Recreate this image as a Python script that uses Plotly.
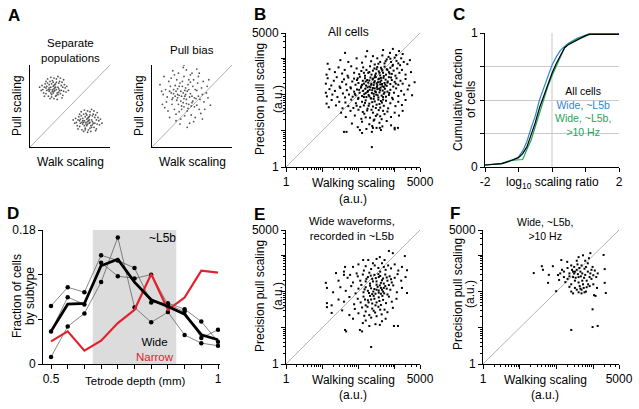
import math
import plotly.graph_objects as go

W, H = 639, 409
FONT = "Liberation Sans, Arial, Helvetica, sans-serif"
FS = 12

# ---------------- Panel A (schematic, arbitrary units 0-10) ----------------
A_sep_upper = [(3.0,7.1),(2.4,7.6),(3.6,6.7),(2.1,6.9),(3.9,7.5),(2.7,6.4),(3.3,7.9),(1.8,7.3),(4.2,6.8),(2.9,7.4),
 (3.1,6.9),(2.5,7.0),(3.5,7.3),(2.2,7.8),(3.8,6.5),(1.6,7.0),(4.4,7.2),(2.8,8.1),(3.2,6.2),(2.0,6.5),(4.0,7.9),
 (2.6,7.3),(3.4,6.6),(1.9,7.7),(4.1,6.3),(3.0,8.4),(2.3,6.2),(3.7,8.0),(1.5,7.5),(4.5,6.7),(2.7,7.7),(3.3,7.0),
 (2.1,7.4),(3.9,6.9),(2.9,6.6),(3.1,7.6),(1.7,6.6),(4.3,7.6),(2.4,6.8),(3.6,7.8),(3.0,5.9),(2.6,8.5),(3.4,5.8),
 (2.2,8.3),(3.8,8.4),(1.4,6.9),(4.6,7.4),(2.8,7.0),(3.2,7.3),(3.0,6.8),(2.5,5.9),(3.5,8.6),(2.0,8.0),(4.0,6.0),
 (3.1,7.2),(2.9,7.9),(1.8,6.2),(4.2,8.2),(2.7,6.1),(3.3,8.3),(1.2,7.3),(4.8,6.9),(3.0,7.5),(2.4,7.2),(3.6,7.1),
 (2.3,7.0),(3.7,6.9),(2.8,6.8),(3.2,7.7),(2.6,6.6),(3.5,6.4),(2.0,7.2),(4.1,7.3),(3.3,6.3),(2.5,8.0)]
A_sep_lower = [(7.2,3.1),(6.6,3.5),(7.8,2.7),(6.3,2.9),(8.1,3.6),(6.9,2.3),(7.5,3.9),(6.0,3.3),(8.4,2.8),(7.1,3.4),
 (7.4,2.9),(6.7,3.0),(7.7,3.3),(6.4,3.8),(8.0,2.4),(5.8,3.0),(8.6,3.2),(7.0,4.1),(7.3,2.1),(6.2,2.5),(8.2,3.9),
 (6.8,3.2),(7.6,2.6),(6.1,3.7),(8.3,2.2),(7.2,4.4),(6.5,2.1),(7.9,4.0),(5.7,3.5),(8.7,2.7),(6.9,3.7),(7.5,3.0),
 (6.3,3.4),(8.1,2.9),(7.1,2.6),(7.3,3.6),(5.9,2.6),(8.5,3.6),(6.6,2.8),(7.8,3.8),(7.2,1.8),(6.8,4.5),(7.6,1.9),
 (6.4,4.3),(8.0,4.4),(5.6,2.9),(8.8,3.4),(7.0,3.0),(7.4,3.3),(7.2,2.8),(6.7,1.9),(7.7,4.6),(6.2,4.0),(8.2,2.0),
 (7.3,3.2),(7.1,3.9),(6.0,2.2),(8.4,4.2),(6.9,2.1),(7.5,4.3),(5.4,3.3),(9.0,2.9),(7.2,3.5),(6.6,3.2),(7.8,3.1),
 (6.5,3.0),(7.9,2.9),(7.0,2.8),(7.4,3.7),(6.8,2.6),(7.7,2.4),(6.2,3.2),(8.3,3.3),(7.5,2.3),(6.7,4.0)]
A_bias = [(4.1,6.2),(3.2,7.1),(5.0,5.4),(2.6,6.0),(5.6,6.9),(3.7,5.0),(4.5,7.6),(2.2,6.8),(6.0,5.8),(3.9,6.6),
 (4.3,5.8),(3.4,6.3),(4.8,6.5),(2.9,7.5),(5.3,4.9),(1.9,6.1),(6.3,6.4),(3.8,8.0),(4.4,4.4),(2.5,5.2),(5.7,7.8),
 (3.6,6.8),(4.6,5.2),(2.3,7.4),(5.9,4.6),(4.0,8.6),(2.8,4.6),(5.2,8.2),(1.7,7.0),(6.5,5.5),(3.5,7.8),(4.7,6.1),
 (2.7,6.5),(5.5,5.9),(3.9,5.4),(4.2,7.2),(1.8,5.5),(6.2,7.2),(3.1,5.7),(5.1,7.4),(4.1,3.8),(3.3,9.0),(4.9,3.9),
 (2.4,8.4),(5.8,8.6),(1.4,6.4),(6.8,6.6),(3.7,6.2),(4.4,6.8),(4.0,5.9),(3.0,4.0),(5.0,9.0),(2.1,8.0),(6.1,4.1),
 (4.2,6.4),(3.8,7.4),(1.6,4.8),(6.4,8.0),(3.4,4.3),(4.8,8.8),(1.2,6.8),(7.0,6.0),(4.1,6.9),(3.2,6.4),(5.0,6.2),
 (2.9,6.2),(5.3,6.0),(3.6,5.6),(4.6,7.0),(3.3,5.2),(4.9,5.0),(2.4,6.6),(5.8,6.2),(4.5,4.7),(3.1,8.2),(4.3,9.4),
 (3.6,3.4),(5.4,3.6),(2.6,9.3),(5.6,9.5),(1.3,5.2),(6.9,7.4),(2.0,4.4),(6.6,4.6),(3.5,2.8),(4.7,2.9),(4.0,10.0),
 (3.0,3.2),(5.2,3.1),(1.0,7.6),(7.3,5.1),(2.2,3.6),(6.3,3.4),(4.4,2.4),(3.9,9.7),(2.8,8.8),(5.9,9.0),(1.5,8.6),
 (7.1,8.2),(3.7,4.6),(4.3,5.3),(2.5,5.8),(5.4,7.0),(3.4,7.4),(4.8,7.9),(2.7,7.0),(5.6,5.1),(4.0,4.9),(4.6,8.2),
 (3.2,6.0),(5.1,5.6),(3.0,6.8)]

# ---------------- Panel B: all cells (log10 walking, log10 pull) ----------------
B_log10 = [(1.63,3.15),(2.24,3.2),(2.68,3.23),(2.87,3.15),(3.04,3.09),(3.12,3.2),(3.22,3.12),(2.95,3.26),
 (1.15,2.85),(1.5,2.95),(1.72,2.9),(1.95,3.0),(2.1,2.88),(2.2,3.05),(2.35,2.92),(2.45,2.83),(2.52,3.0),(2.6,2.9),
 (2.66,3.08),(2.72,2.86),(2.78,2.97),(2.83,3.04),(2.9,2.9),(2.95,2.82),(3.0,3.02),(3.05,2.93),(3.1,2.86),(3.18,3.0),
 (3.25,2.9),(3.35,2.84),(3.42,2.95),(2.4,3.06),(2.75,2.92),(2.55,2.85),(2.88,2.99),(3.15,2.81),
 (1.12,2.55),(1.2,2.7),(1.35,2.62),(1.45,2.75),(1.55,2.58),(1.62,2.68),(1.7,2.52),(1.8,2.78),(1.88,2.6),(1.95,2.72),
 (2.02,2.56),(2.08,2.65),(2.13,2.75),(2.18,2.52),(2.22,2.68),(2.27,2.6),(2.32,2.78),(2.36,2.55),(2.4,2.66),(2.44,2.72),
 (2.48,2.58),(2.52,2.76),(2.56,2.64),(2.6,2.53),(2.64,2.7),(2.68,2.6),(2.72,2.77),(2.76,2.55),(2.8,2.68),(2.84,2.62),
 (2.88,2.74),(2.92,2.57),(2.97,2.66),(3.02,2.52),(3.07,2.72),(3.13,2.6),(3.2,2.68),(3.3,2.55),(3.45,2.62),(2.3,2.62),
 (2.5,2.7),(2.62,2.74),(2.7,2.51),(2.86,2.58),(2.15,2.6),(2.58,2.6),(2.78,2.7),(2.94,2.79),(2.46,2.53),(2.66,2.66),
 (1.1,2.3),(1.15,2.45),(1.25,2.25),(1.32,2.38),(1.4,2.48),(1.48,2.22),(1.55,2.35),(1.6,2.42),(1.66,2.28),(1.72,2.47),
 (1.78,2.2),(1.83,2.36),(1.88,2.44),(1.92,2.27),(1.96,2.4),(2.0,2.32),(2.04,2.49),(2.08,2.23),(2.12,2.38),(2.15,2.3),
 (2.18,2.45),(2.21,2.25),(2.24,2.4),(2.27,2.33),(2.3,2.22),(2.33,2.47),(2.36,2.3),(2.39,2.42),(2.42,2.26),(2.45,2.37),
 (2.48,2.48),(2.51,2.21),(2.54,2.34),(2.57,2.44),(2.6,2.28),(2.63,2.39),(2.66,2.23),(2.69,2.46),(2.72,2.32),(2.75,2.41),
 (2.78,2.24),(2.81,2.36),(2.84,2.48),(2.88,2.29),(2.92,2.4),(2.96,2.22),(3.0,2.35),(3.05,2.45),(3.1,2.27),(3.16,2.38),
 (3.22,2.3),(3.3,2.43),(3.4,2.25),(3.55,2.34),(2.2,2.36),(2.35,2.27),(2.4,2.44),(2.5,2.31),(2.55,2.42),(2.65,2.29),
 (2.3,2.39),(2.45,2.48),(2.6,2.35),(2.7,2.21),(1.98,2.45),(2.1,2.27),(2.8,2.33),(2.9,2.47),(3.03,2.3),(2.25,2.2),
 (2.52,2.26),(2.62,2.46),(2.74,2.27),(2.43,2.33),
 (1.1,2.05),(1.13,1.95),(1.2,2.15),(1.28,2.0),(1.35,2.1),(1.42,1.93),(1.5,2.18),(1.57,2.03),(1.63,1.92),(1.68,2.12),
 (1.74,2.0),(1.79,2.17),(1.84,1.94),(1.88,2.08),(1.92,1.98),(1.96,2.14),(2.0,1.91),(2.03,2.05),(2.07,2.19),(2.1,1.96),
 (2.13,2.1),(2.16,2.01),(2.19,2.16),(2.22,1.93),(2.25,2.07),(2.28,1.99),(2.31,2.13),(2.34,1.9),(2.37,2.04),(2.4,2.18),
 (2.43,1.95),(2.46,2.09),(2.49,2.0),(2.52,2.15),(2.55,1.92),(2.58,2.06),(2.61,2.19),(2.64,1.97),(2.67,2.11),(2.7,2.02),
 (2.73,2.16),(2.76,1.94),(2.8,2.08),(2.84,1.99),(2.88,2.13),(2.93,1.91),(2.98,2.05),(3.04,2.17),(3.1,1.96),(3.18,2.1),
 (3.26,2.0),(3.36,2.14),(3.48,1.98),(2.2,2.04),(2.3,1.95),(2.38,2.12),(2.48,2.07),(2.6,2.12),(2.68,1.93),(2.45,2.17),
 (2.15,1.93),(2.33,2.2),(2.53,1.98),(2.72,2.06),(1.9,2.02),(2.02,2.13),(2.26,2.1),(2.42,2.02),(2.57,2.16),(2.85,2.04),
 (1.12,1.75),(1.18,1.65),(1.26,1.85),(1.38,1.7),(1.47,1.8),(1.56,1.62),(1.64,1.78),(1.72,1.68),(1.8,1.86),(1.86,1.63),
 (1.93,1.76),(1.99,1.88),(2.05,1.66),(2.1,1.8),(2.15,1.7),(2.2,1.84),(2.25,1.61),(2.3,1.75),(2.35,1.89),(2.4,1.67),
 (2.45,1.81),(2.5,1.72),(2.55,1.86),(2.6,1.64),(2.65,1.78),(2.7,1.69),(2.76,1.83),(2.82,1.62),(2.88,1.76),(2.95,1.87),
 (3.02,1.68),(3.1,1.8),(3.2,1.71),(3.3,1.85),(2.28,1.69),(2.42,1.88),(2.58,1.74),(2.18,1.77),(2.48,1.63),(2.68,1.86),
 (1.95,1.69),(2.38,1.79),(2.62,1.82),
 (1.52,1.5),(1.65,1.38),(1.78,1.55),(1.9,1.42),(2.0,1.58),(2.08,1.33),(2.16,1.47),(2.24,1.56),(2.32,1.36),(2.4,1.5),
 (2.48,1.41),(2.56,1.57),(2.64,1.32),(2.72,1.46),(2.8,1.53),(2.9,1.38),(3.0,1.5),(3.12,1.42),(3.22,1.55),(2.2,1.37),
 (2.36,1.58),(2.52,1.45),(2.68,1.55),(2.44,1.31),(2.12,1.52),(2.6,1.4),
 (1.82,1.2),(1.98,1.1),(2.1,1.25),(2.22,1.05),(2.3,1.18),(2.42,1.28),(2.5,1.08),(2.58,1.22),(2.66,1.12),(2.78,1.27),
 (2.9,1.15),(3.0,1.04),(2.38,1.13),(2.62,1.02),
 (1.6,0.97),(1.67,0.97),(2.04,1.02),(2.1,0.94),(2.37,0.97),(2.4,1.08),(2.59,1.08),(3.0,1.08),(3.09,1.08),(2.37,0.55)]

# ---------------- Panel E: wide waveforms in ~L5b ----------------
E_log10 = [(2.84,3.12),(2.95,3.06),(2.59,2.95),(2.13,2.87),(2.27,2.87),(2.72,2.87),(3.28,2.98),(2.4,2.78),(2.5,2.9),
 (1.63,2.68),(1.85,2.68),(1.38,2.51),(1.6,2.55),(1.77,2.46),(2.0,2.75),(2.2,2.7),(2.35,2.62),(2.45,2.72),(2.55,2.65),
 (2.65,2.78),(2.75,2.6),(2.82,2.72),(2.9,2.64),(3.0,2.75),(3.1,2.58),(3.34,2.59),(2.6,2.55),(2.3,2.52),(2.7,2.68),
 (2.15,2.58),(1.95,2.5),(3.2,2.68),
 (1.1,2.24),(1.45,2.3),(1.7,2.38),(1.85,2.25),(1.98,2.42),(2.05,2.3),(2.12,2.47),(2.2,2.28),(2.26,2.4),(2.32,2.22),
 (2.38,2.35),(2.44,2.46),(2.5,2.28),(2.56,2.4),(2.62,2.24),(2.68,2.36),(2.74,2.47),(2.8,2.3),(2.86,2.42),(2.92,2.25),
 (3.0,2.38),(3.08,2.48),(3.18,2.3),(3.3,2.4),(2.4,2.28),(2.55,2.48),(2.65,2.31),(2.78,2.39),(2.34,2.44),(2.48,2.37),
 (2.6,2.43),(2.7,2.22),(2.9,2.34),(2.22,2.35),(1.6,2.46),
 (1.13,2.1),(1.3,1.98),(1.5,2.12),(1.65,2.02),(1.8,2.15),(1.92,1.95),(2.0,2.08),(2.08,2.18),(2.14,1.98),(2.2,2.12),
 (2.26,2.02),(2.32,2.16),(2.38,1.93),(2.44,2.07),(2.5,2.19),(2.56,1.97),(2.62,2.1),(2.68,2.0),(2.74,2.15),(2.8,1.92),
 (2.88,2.05),(2.96,2.17),(3.06,1.98),(3.2,2.1),(3.34,1.96),(2.41,2.0),(2.53,2.13),(2.65,2.05),(2.71,1.95),(2.47,1.94),
 (2.59,2.17),(2.35,2.09),(2.78,2.08),(2.29,1.96),(2.84,2.18),(2.17,2.06),(2.5,2.05),(2.62,1.94),(2.7,2.1),(2.56,2.03),
 (1.13,1.68),(1.13,1.57),(1.26,1.62),(1.45,1.78),(1.6,1.72),(1.75,1.85),(1.88,1.65),(1.98,1.8),(2.06,1.7),(2.14,1.86),
 (2.2,1.62),(2.26,1.76),(2.32,1.88),(2.38,1.67),(2.44,1.8),(2.5,1.7),(2.56,1.84),(2.62,1.63),(2.68,1.77),(2.76,1.68),
 (2.84,1.86),(2.92,1.72),(3.05,1.8),(2.35,1.78),(2.47,1.62),(2.58,1.74),(2.28,1.7),(2.66,1.88),(2.18,1.78),(2.42,1.88),
 (1.26,1.41),(1.55,1.48),(1.75,1.35),(1.9,1.52),(2.0,1.4),(2.1,1.56),(2.2,1.45),(2.3,1.35),(2.38,1.53),(2.46,1.42),
 (2.55,1.58),(2.64,1.37),(2.72,1.5),(2.8,1.43),(2.95,1.55),(2.25,1.58),(2.5,1.32),(2.42,1.47),(2.16,1.33),(2.6,1.5),
 (1.85,1.25),(2.12,1.13),(2.2,1.2),(2.35,1.28),(2.47,1.1),(2.59,1.08),(2.65,1.18),(2.3,1.05),(2.98,1.05),(3.09,1.05),
 (2.75,1.25),(1.63,0.94),(1.66,0.9),(2.04,0.94),(2.1,0.9),(2.35,0.47)]

# ---------------- Panel F: wide, ~L5b, >10 Hz ----------------
F_log10 = [(1.38,2.51),(1.6,2.7),(1.63,2.6),(1.77,2.24),(1.79,2.46),(1.9,2.7),(1.99,2.01),(2.04,2.46),(2.07,2.32),
 (2.13,2.87),(2.15,2.6),(2.2,2.55),(2.24,2.26),(2.29,2.82),(2.3,2.65),(2.35,2.5),(2.35,2.42),(2.4,2.72),(2.4,2.2),
 (2.42,2.6),(2.45,2.4),(2.48,2.68),(2.48,2.5),(2.5,2.3),(2.55,2.85),(2.55,2.6),(2.6,2.95),(2.6,2.4),(2.63,2.15),
 (2.65,2.55),(2.68,2.72),(2.7,2.3),(2.72,3.0),(2.74,2.1),(2.76,2.63),(2.78,2.46),(2.8,2.0),(2.82,2.3),(2.85,2.78),
 (2.88,2.92),(2.9,2.15),(2.92,2.5),(2.92,3.06),(2.95,2.35),(2.98,2.68),(3.0,2.2),(3.02,1.9),(3.04,2.58),(3.08,2.4),
 (3.1,2.1),(3.12,2.5),(3.28,3.01),(3.31,2.62),(3.31,2.24),(3.34,1.96),(2.35,2.13),(2.4,2.0),(2.45,1.95),(2.55,2.05),
 (2.6,1.98),(2.68,1.95),(2.5,2.1),(2.65,2.08),(2.98,1.51),(3.06,1.88),(2.98,1.02),(3.12,1.05),(2.4,0.94),
 (2.5,2.55),(2.58,2.48),(2.62,2.65),(2.7,2.5),(2.75,2.38),(2.85,2.55),(2.8,2.68),(2.66,2.42),(2.52,2.38),(2.9,2.4),
 (2.72,2.2),(2.86,2.2),(2.95,2.6),(2.57,2.75),(2.78,2.85),(2.45,2.55),(2.2,2.4),(2.3,2.35),(2.1,2.5),(3.0,2.45),
 (2.68,2.05),(2.76,1.98),(2.82,2.12),(2.6,2.25)]

# ---------------- Panel C: cumulative distributions ----------------
C_log_ratio = [-2, -1.5, -1.25, -1, -0.875, -0.75, -0.625, -0.5, -0.375, -0.25, -0.125, 0,
               0.125, 0.25, 0.375, 0.5, 0.75, 1, 1.125, 1.5, 2]
C_all_cells = [0.015,0.025,0.045,0.07,0.1,0.15,0.24,0.33,0.44,0.53,0.62,0.70,0.77,0.83,0.89,0.915,0.95,0.98,0.99,0.99,0.99]
C_wide_l5b = [0.015,0.025,0.045,0.075,0.12,0.19,0.29,0.38,0.5,0.59,0.68,0.76,0.82,0.87,0.9,0.925,0.96,0.985,0.995,0.995,0.995]
C_wide_l5b_10hz = [0.015,0.025,0.05,0.056,0.056,0.13,0.2,0.3,0.4,0.5,0.6,0.68,0.75,0.82,0.89,0.92,0.955,0.975,0.995,0.995,0.995]

# ---------------- Panel D: fraction of cells vs depth ----------------
D_depth = [0.5, 0.55, 0.6, 0.65, 0.7, 0.75, 0.8, 0.85, 0.9, 0.95, 1.0]
D_wide_mean = [0.0438,0.0804,0.0813,0.132,0.1407,0.11,0.0862,0.0773,0.067,0.0393,0.0326]
D_narrow = [0.0304,0.0438,0.0179,0.0313,0.055,0.0728,0.121,0.0728,0.0893,0.1255,0.1228]
D_wide_rat1 = [0.078,0.103,0.0965,0.146,0.139,0.129,0.0826,0.0817,0.0737,0.057,0.030]
D_wide_rat2 = [0.0438,0.0898,0.08,0.136,0.118,0.115,0.12,0.08,0.0705,0.035,0.046]
D_wide_rat3 = [0.0094,0.0505,0.068,0.110,0.170,0.076,0.056,0.0697,0.039,0.028,0.0246]
L5B_RANGE = [0.625, 0.875]

LOG_MAJOR = [1, 10, 100, 1000, 5000]
LOG_MAJOR_TEXT = ["1", "", "", "", "5000"]
LOG_MINOR = [2,3,4,5,6,7,8,9,20,30,40,50,60,70,80,90,200,300,400,500,600,700,800,900,2000,3000,4000]

BLUE = "#2f86cc"
GREEN = "#1ea55a"
RED = "#e4212b"


def dx(px):
    return px / W


def dy(py):
    return 1 - py / H


fig = go.Figure()


def scatter_pts(pts, xa, ya, color="black", size=2.0, symbol="square", log=False):
    xs = [p[0] for p in pts]
    ys = [p[1] for p in pts]
    if log:
        xs = [10 ** v for v in xs]
        ys = [10 ** v for v in ys]
    fig.add_trace(go.Scatter(x=xs, y=ys, mode="markers", xaxis=xa, yaxis=ya,
                             marker=dict(size=size, color=color, symbol=symbol, line=dict(width=0)),
                             hoverinfo="skip"))


# A schematics
for xa, ya in (("x", "y"), ("x2", "y2")):
    fig.add_trace(go.Scatter(x=[0, 10], y=[0, 10], mode="lines", xaxis=xa, yaxis=ya,
                             line=dict(color="#9a9a9a", width=0.8), hoverinfo="skip"))
scatter_pts(A_sep_upper, "x", "y", color="#555555", size=1.8, symbol="circle")
scatter_pts(A_sep_lower, "x", "y", color="#555555", size=1.8, symbol="circle")
scatter_pts(A_bias, "x2", "y2", color="#555555", size=1.8, symbol="circle")

# B, E, F
for pts, xa, ya in ((B_log10, "x3", "y3"), (E_log10, "x6", "y6"), (F_log10, "x7", "y7")):
    fig.add_trace(go.Scatter(x=[1, 5000], y=[1, 5000], mode="lines", xaxis=xa, yaxis=ya,
                             line=dict(color="#a0a0a0", width=0.8), hoverinfo="skip"))
    scatter_pts(pts, xa, ya, log=True)

# C
for ys, col in ((C_wide_l5b, BLUE), (C_wide_l5b_10hz, GREEN), (C_all_cells, "black")):
    fig.add_trace(go.Scatter(x=C_log_ratio, y=ys, mode="lines", xaxis="x4", yaxis="y4",
                             line=dict(color=col, width=1.2), hoverinfo="skip"))

# D
for ys in (D_wide_rat1, D_wide_rat2, D_wide_rat3):
    fig.add_trace(go.Scatter(x=D_depth, y=ys, mode="lines+markers", xaxis="x5", yaxis="y5",
                             line=dict(color="#555555", width=0.7),
                             marker=dict(size=4.5, color="black"), hoverinfo="skip"))
fig.add_trace(go.Scatter(x=D_depth, y=D_narrow, mode="lines", xaxis="x5", yaxis="y5",
                         line=dict(color=RED, width=2.2), hoverinfo="skip"))
fig.add_trace(go.Scatter(x=D_depth, y=D_wide_mean, mode="lines", xaxis="x5", yaxis="y5",
                         line=dict(color="black", width=2.8), hoverinfo="skip"))

# ---- axes ----
tickfont = dict(family=FONT, size=FS, color="black")
base = dict(showline=True, linecolor="black", linewidth=1, showgrid=False, zeroline=False,
            tickfont=tickfont, ticks="outside", ticklen=4, tickwidth=1, tickcolor="black",
            automargin=False)


def plain_schematic(domain, anchor):
    d = dict(base)
    d.update(domain=domain, anchor=anchor, range=[0, 10], ticks="", showticklabels=False)
    return d


def log_axis(domain, anchor):
    d = dict(base)
    d.update(type="log", domain=domain, anchor=anchor, range=[0, math.log10(5000)],
             tickmode="array", tickvals=LOG_MAJOR, ticktext=LOG_MAJOR_TEXT,
             minor=dict(tickmode="array", tickvals=LOG_MINOR, ticks="outside", ticklen=2,
                        tickwidth=0.8, tickcolor="black", showgrid=False))
    return d


AY_TOP = [dy(147), dy(65)]
fig.update_layout(
    xaxis=plain_schematic([dx(30), dx(110)], "y"),
    yaxis=plain_schematic(AY_TOP, "x"),
    xaxis2=plain_schematic([dx(152), dx(232)], "y2"),
    yaxis2=plain_schematic(AY_TOP, "x2"),
    xaxis3=log_axis([dx(286), dx(420)], "y3"),
    yaxis3=log_axis([dy(167), dy(33)], "x3"),
    xaxis6=log_axis([dx(286), dx(420)], "y6"),
    yaxis6=log_axis([dy(364), dy(230)], "x6"),
    xaxis7=log_axis([dx(483), dx(619)], "y7"),
    yaxis7=log_axis([dy(364), dy(230)], "x7"),
)

cx = dict(base)
cx.update(domain=[dx(485), dx(619)], anchor="y4", range=[-2, 2], tickmode="array",
          tickvals=[-2, -1, 0, 1, 2], ticktext=["-2", "", "", "", "2"])
cy = dict(base)
cy.update(domain=[dy(167), dy(33)], anchor="x4", range=[0, 1], tickmode="array",
          tickvals=[0, 0.25, 0.5, 0.75, 1], ticktext=["0", "", "", "", "1"],
          showgrid=True, gridcolor="#c9c9c9", gridwidth=1)
dxa = dict(base)
dxa.update(domain=[dx(43), dx(220)], anchor="y5", range=[0.476, 1.006], tickmode="array",
           tickvals=D_depth, ticktext=["0.5", "", "", "", "", "", "", "", "", "", "1"])
dya = dict(base)
dya.update(domain=[dy(364), dy(230)], anchor="x5", range=[0, 0.18], tickmode="array",
           tickvals=[0, 0.06, 0.12, 0.18], ticktext=["0", "", "", "0.18"])
fig.update_layout(xaxis4=cx, yaxis4=cy, xaxis5=dxa, yaxis5=dya)

# ---- shapes ----
fig.add_shape(type="rect", xref="x5", yref="y5", x0=L5B_RANGE[0], x1=L5B_RANGE[1], y0=0, y1=0.18,
              fillcolor="#dcdcdd", line=dict(width=0), layer="below")
fig.add_shape(type="line", xref="x4", yref="y4", x0=0, x1=0, y0=0, y1=1,
              line=dict(color="#c9c9c9", width=1), layer="below")

# ---- annotations ----
anns = []


def ann(text, px, py, size=FS, color="black", angle=0, bold=False, xanchor="center"):
    if bold:
        text = "<b>" + text + "</b>"
    anns.append(dict(text=text, x=dx(px), y=dy(py), xref="paper", yref="paper", showarrow=False,
                     xanchor=xanchor, yanchor="middle", textangle=angle, align="center",
                     font=dict(family=FONT, size=size, color=color)))


def col(text, c):
    return '<span style="color:%s">%s</span>' % (c, text)


for letter, px, py in (("A", 14, 15), ("B", 260, 14), ("C", 459, 14),
                       ("D", 13, 213), ("E", 259, 214), ("F", 455, 213)):
    ann(letter, px, py, size=17, bold=True)

# A
ann("Separate<br>populations", 70, 50, size=11.5)
ann("Pull bias", 192, 50, size=11.5)
ann("Pull scaling", 17, 106, angle=-90)
ann("Pull scaling", 139, 106, angle=-90)
ann("Walk scaling", 70, 162)
ann("Walk scaling", 192, 162)

# B
ann("All cells", 348, 32)
ann("Precision pull scaling", 260, 99, angle=-90)
ann("(a.u.)", 278, 99, angle=-90)
ann("Walking scaling", 353, 183)
ann("(a.u.)", 353, 199)

# C
ann("Cumulative fraction", 458, 100, angle=-90)
ann("of cells", 471, 100, angle=-90)
ann("log<sub>10</sub> scaling ratio", 552, 183)
ann("All cells<br>" + col("Wide, ~L5b", BLUE) + "<br>" + col("Wide, ~L5b,", GREEN) + "<br>" +
    col("&gt;10 Hz", GREEN), 583, 112, size=10.5)

# D
ann("Fraction of cells", 17, 296, angle=-90)
ann("by subtype", 30, 296, angle=-90)
ann("Tetrode depth (mm)", 135, 381, size=11.5)
ann("~L5b", 162, 238)
ann("Wide<br>" + col("Narrow", RED), 155, 349, size=11.5)

# E
ann("Wide waveforms,<br>recorded in ~L5b", 352, 228.5, size=11.2)
ann("Precision pull scaling", 260, 296, angle=-90)
ann("(a.u.)", 278, 296, angle=-90)
ann("Walking scaling", 353, 380)
ann("(a.u.)", 353, 395)

# F
ann("Wide, ~L5b,<br>&gt;10 Hz", 545, 228.5, size=10.5)
ann("Precision pull scaling", 458, 294, angle=-90)
ann("(a.u.)", 470, 294, angle=-90)
ann("Walking scaling", 545, 380)
ann("(a.u.)", 545, 395)

fig.update_layout(
    width=W, height=H, margin=dict(l=0, r=0, t=0, b=0, pad=0, autoexpand=False),
    paper_bgcolor="white", plot_bgcolor="white",
    showlegend=False, annotations=anns,
    font=dict(family=FONT, size=FS, color="black"),
)

fig.write_html("out.html", config={"displayModeBar": False},
               post_script="document.body.style.margin='0px';document.body.style.overflow='hidden';")
